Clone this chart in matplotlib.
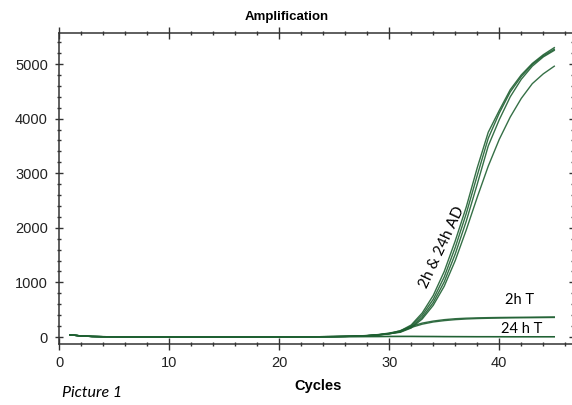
import matplotlib
matplotlib.use("Agg")
import matplotlib.pyplot as plt
from matplotlib.ticker import MultipleLocator
import numpy as np

# cycle numbers 1..45
cycles = np.arange(1, 46)

# shared early baseline, cycles 1..24
baseline = [40, 20, 10, 6, 5, 4, 4, 4, 4, 3, 3, 3, 3, 3, 3, 3, 3, 4, 4, 4, 4, 5, 5, 6]

# cycles 25..45 for each well
ad_1 = [8, 12, 18, 28, 45, 72, 112, 220, 440, 760, 1200, 1760, 2380, 3100, 3750, 4150, 4530, 4800, 5010, 5170, 5300]
ad_2 = [8, 12, 17, 26, 42, 66, 100, 200, 400, 690, 1100, 1640, 2260, 2960, 3640, 4100, 4490, 4770, 4990, 5150, 5270]
ad_3 = [8, 11, 16, 25, 40, 62, 92, 180, 360, 630, 1010, 1520, 2120, 2800, 3500, 3980, 4400, 4720, 4960, 5130, 5250]
ad_4 = [8, 11, 16, 24, 38, 60, 86, 165, 330, 580, 930, 1400, 1960, 2560, 3130, 3620, 4030, 4370, 4640, 4820, 4960]
t2h_1 = [8, 11, 16, 24, 38, 62, 115, 195, 255, 292, 318, 335, 345, 351, 355, 358, 360, 362, 364, 366, 368]
t2h_2 = [8, 11, 15, 22, 35, 56, 100, 175, 235, 275, 300, 318, 330, 338, 343, 347, 350, 352, 354, 356, 358]
t24h_1 = [6, 7, 8, 9, 10, 11, 12, 12, 11, 10, 9, 8, 8, 7, 7, 7, 6, 6, 6, 6, 6]
t24h_2 = [6, 6, 7, 8, 8, 9, 9, 9, 8, 8, 7, 7, 6, 6, 6, 5, 5, 5, 5, 5, 5]

wells = [ad_1, ad_2, ad_3, ad_4, t2h_1, t2h_2, t24h_1, t24h_2]

fig = plt.figure(figsize=(5.72, 4.05), dpi=100)
ax = fig.add_axes([59 / 572, 1 - 344 / 405, 514 / 572, (344 - 33) / 405])

for w in wells:
    ax.plot(cycles, baseline + w, color='#1f6032', lw=1.0, alpha=0.9)

ax.set_xlim(0, 46.7)
ax.set_ylim(-128, 5568)

ax.xaxis.set_major_locator(MultipleLocator(10))
ax.xaxis.set_minor_locator(MultipleLocator(2))
ax.yaxis.set_major_locator(MultipleLocator(1000))
ax.yaxis.set_minor_locator(MultipleLocator(200))

for s in ax.spines.values():
    s.set_color('#333333')
    s.set_linewidth(1.1)

ax.tick_params(axis='x', which='major', direction='inout', length=9, width=1, pad=4,
               colors='#333333', labelcolor='#222222', labelsize=10.5,
               top=True)
ax.tick_params(axis='x', which='minor', direction='inout', length=3.5, width=1, top=True, colors='#333333')
ax.tick_params(axis='y', which='major', direction='inout', length=6, width=1, pad=5,
               colors='#333333', labelcolor='#222222', labelsize=10.5, right=True)
ax.tick_params(axis='y', which='minor', direction='inout', length=3, width=1, right=True, colors='#333333')

for lab in ax.get_xticklabels() + ax.get_yticklabels():
    lab.set_fontfamily('Liberation Sans')

fig.text(287 / 572, 1 - 17 / 405, 'Amplification', ha='center', va='center',
         fontsize=9.5, fontweight='bold', family='Liberation Sans')
fig.text(318 / 572, 1 - 386 / 405, 'Cycles', ha='center', va='center',
         fontsize=10.5, fontweight='bold', family='Liberation Sans')
fig.text(62 / 572, 1 - 393 / 405, 'Picture 1', ha='left', va='center',
         fontsize=11.5, style='italic', family='Lato')

ax.text(34.8, 1650, '2h & 24h AD', rotation=65, ha='center', va='center',
        fontsize=11, family='Lato', rotation_mode='anchor')
ax.text(41.8, 680, '2h T', ha='center', va='center', fontsize=10.5, family='Lato')
ax.text(42.0, 140, '24 h T', ha='center', va='center', fontsize=10.5, family='Lato')

fig.savefig('out.png', dpi=100)
